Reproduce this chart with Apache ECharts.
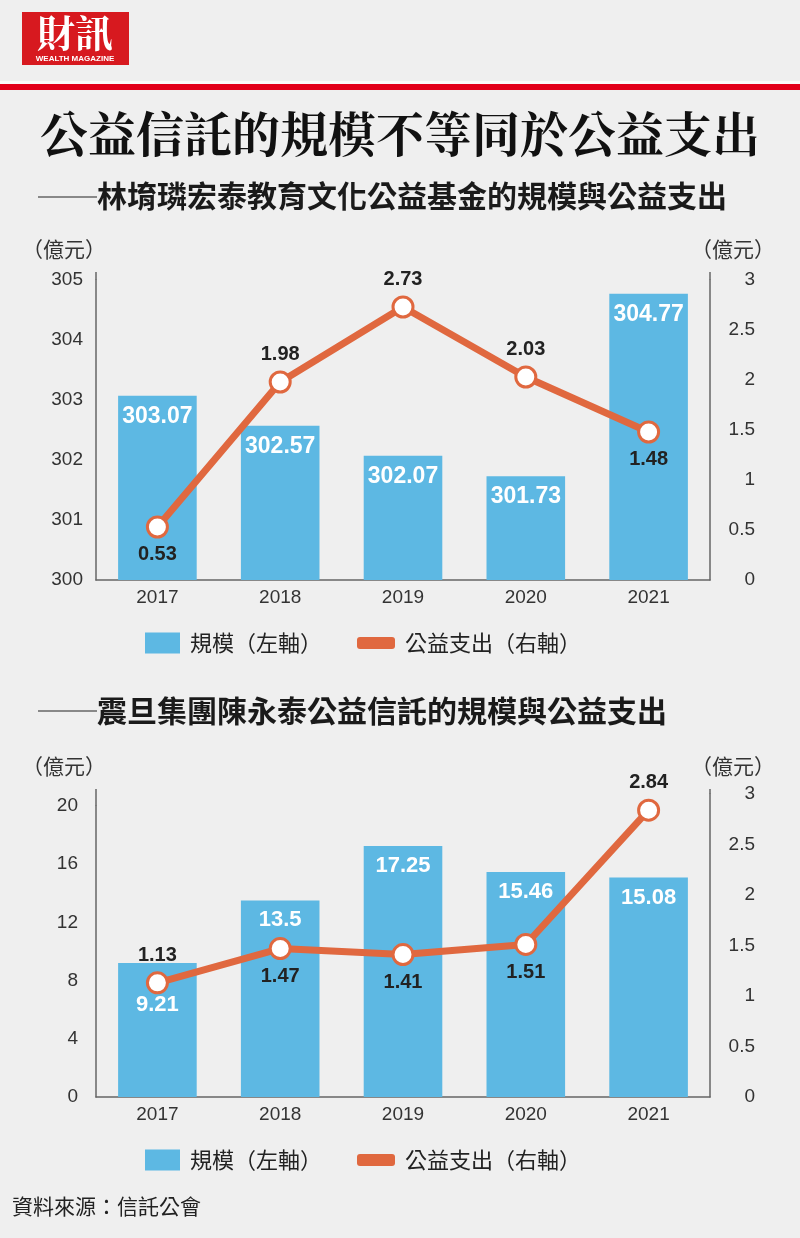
<!DOCTYPE html>
<html><head><meta charset="utf-8">
<script src="https://cdn.jsdelivr.net/npm/echarts@6/dist/echarts.min.js"></script>
<style>html,body{margin:0;padding:0;background:#efefef;}#c{width:800px;height:1238px;}</style>
</head><body><div id="c"></div>
<script>
// ---- data ----
const years = ['2017', '2018', '2019', '2020', '2021'];
const scale1 = [303.07, 302.57, 302.07, 301.73, 304.77];
const spend1 = [0.53, 1.98, 2.73, 2.03, 1.48];
const scale2 = [9.21, 13.5, 17.25, 15.46, 15.08];
const spend2 = [1.13, 1.47, 1.41, 1.51, 2.84];
const leftAxis1 = { min: 300, max: 305, interval: 1 };
const rightAxis1 = { min: 0, max: 3, interval: 0.5 };
const leftAxis2 = { min: 0, max: 20, interval: 4 };
const rightAxis2 = { min: 0, max: 3, interval: 0.5 };
// ---- texts ----
const mainTitle = '公益信託的規模不等同於公益支出';
const subTitle1 = '林堉璘宏泰教育文化公益基金的規模與公益支出';
const subTitle2 = '震旦集團陳永泰公益信託的規模與公益支出';
const unitText = '（億元）';
const barName = '規模（左軸）';
const lineName = '公益支出（右軸）';
const sourceText = '資料來源：信託公會';
// ---- label placement (style) ----
const spend1Pos = ['bottom', 'top', 'top', 'top', 'bottom'];
const spend2Pos = ['top', 'bottom', 'bottom', 'bottom', 'top'];
const scale2Dist = [31, 8, 9, 9, 9];

const BLUE = '#5db8e3';
const ORANGE = '#e0683f';
const DARK = '#222';
const NUM = "'Liberation Sans', Arial, sans-serif";
const CJK = "'Noto Sans CJK TC', 'Noto Sans CJK SC', sans-serif";

const chart = echarts.init(document.getElementById('c'), null, { renderer: 'canvas' });

function catAxis(grid, show) {
  return {
    type: 'category', gridIndex: grid, data: years, show: show,
    axisLine: { show: true, lineStyle: { color: '#666', width: 1.5 } },
    axisTick: { show: false },
    axisLabel: { color: '#333', fontSize: 19, fontFamily: NUM, margin: 8 }
  };
}
function valAxis(grid, pos, ax, margin, align) {
  return Object.assign({
    type: 'value', gridIndex: grid, position: pos,
    axisLine: { show: true, lineStyle: { color: '#666', width: 1.5 } },
    axisTick: { show: false },
    splitLine: { show: false },
    axisLabel: { color: '#333', fontSize: 19, fontFamily: NUM, margin: margin, align: align }
  }, ax);
}

const lineBase = {
  type: 'line', name: lineName, symbol: 'circle', symbolSize: 20,
  lineStyle: { color: ORANGE, width: 7 },
  itemStyle: { color: '#fff', borderColor: ORANGE, borderWidth: 3 },
  z: 5,
  label: { show: true, distance: 6, color: DARK, fontSize: 20, fontWeight: 'bold', fontFamily: NUM }
};

const legendText = { fontSize: 22, color: DARK, fontFamily: CJK, padding: [0, 0, 0, 5] };

function legends(cy) {
  return [
    { data: [{ name: barName, icon: 'rect' }], left: 145, top: cy - 13, itemWidth: 35, itemHeight: 21,
      padding: 0, selectedMode: false, textStyle: legendText },
    { data: [{ name: lineName, icon: 'roundRect', itemStyle: { color: ORANGE, borderWidth: 0 } }],
      left: 357, top: cy - 13, itemWidth: 38, itemHeight: 12, padding: 0, selectedMode: false, textStyle: legendText }
  ];
}

const unitStyle = { fontSize: 21, fontWeight: 'normal', color: '#333', fontFamily: CJK };

const option = {
  backgroundColor: '#efefef',
  animation: false,
  title: [
    { text: mainTitle, left: 'center', top: 110, padding: 0,
      textStyle: { fontSize: 48, fontWeight: 'bold', color: '#111', fontFamily: "'Noto Serif CJK TC', " + CJK } },
    { text: subTitle1, left: 97, top: 181, padding: 0,
      textStyle: { fontSize: 30, fontWeight: 'bold', color: '#1a1a1a', fontFamily: CJK } },
    { text: subTitle2, left: 97, top: 696, padding: 0,
      textStyle: { fontSize: 30, fontWeight: 'bold', color: '#1a1a1a', fontFamily: CJK } },
    { text: unitText, left: 22, top: 239, padding: 0, textStyle: unitStyle },
    { text: unitText, left: 691, top: 239, padding: 0, textStyle: unitStyle },
    { text: unitText, left: 22, top: 756, padding: 0, textStyle: unitStyle },
    { text: unitText, left: 691, top: 756, padding: 0, textStyle: unitStyle },
    { text: sourceText, left: 12, top: 1196, padding: 0, textStyle: { fontSize: 21, fontWeight: 'normal', color: '#222', fontFamily: CJK } }
  ],
  legend: legends(645).concat(legends(1162)),
  grid: [
    { left: 96, right: 90, top: 280, bottom: 1238 - 580 },
    { left: 96, right: 90, top: 806, bottom: 1238 - 1097 },
    { left: 96, right: 90, top: 794, bottom: 1238 - 1097 }
  ],
  xAxis: [catAxis(0, true), catAxis(1, true), catAxis(2, false)],
  yAxis: [
    valAxis(0, 'left', Object.assign({ startValue: 300 }, leftAxis1), 13, 'right'),
    valAxis(0, 'right', rightAxis1, 45, 'right'),
    valAxis(1, 'left', leftAxis2, 18, 'right'),
    valAxis(2, 'right', rightAxis2, 45, 'right')
  ],
  graphic: [
    { type: 'rect', shape: { x: 22, y: 12, width: 107, height: 53 }, style: { fill: '#d7191f' } },
    { type: 'text', x: 75, y: 33, style: { text: '財訊', fill: '#fff', font: "bold 38px 'Noto Serif CJK TC', 'Noto Sans CJK TC', serif", align: 'center', verticalAlign: 'middle' } },
    { type: 'text', x: 75, y: 59, style: { text: 'WEALTH MAGAZINE', fill: '#fff', font: "bold 8px 'Liberation Sans', sans-serif", align: 'center', verticalAlign: 'middle' } },
    { type: 'rect', shape: { x: 0, y: 81, width: 800, height: 3 }, style: { fill: '#fafafa' } },
    { type: 'rect', shape: { x: 0, y: 84, width: 800, height: 6 }, style: { fill: '#e2001a' } },
    { type: 'line', shape: { x1: 38, y1: 197, x2: 97, y2: 197 }, style: { stroke: '#666', lineWidth: 1.5 } },
    { type: 'line', shape: { x1: 38, y1: 711, x2: 97, y2: 711 }, style: { stroke: '#666', lineWidth: 1.5 } },
    { type: 'line', shape: { x1: 96, y1: 272, x2: 96, y2: 280 }, style: { stroke: '#666', lineWidth: 1.5 } },
    { type: 'line', shape: { x1: 710, y1: 272, x2: 710, y2: 280 }, style: { stroke: '#666', lineWidth: 1.5 } },
    { type: 'line', shape: { x1: 96, y1: 789, x2: 96, y2: 806 }, style: { stroke: '#666', lineWidth: 1.5 } },
    { type: 'line', shape: { x1: 710, y1: 789, x2: 710, y2: 794 }, style: { stroke: '#666', lineWidth: 1.5 } }
  ],
  series: [
    { type: 'bar', name: barName, xAxisIndex: 0, yAxisIndex: 0, data: scale1, barWidth: '64%',
      itemStyle: { color: BLUE },
      label: { show: true, position: 'insideTop', distance: 9, color: '#fff', fontSize: 23, fontWeight: 'bold', fontFamily: NUM } },
    Object.assign({}, lineBase, { xAxisIndex: 0, yAxisIndex: 1,
      data: spend1.map((v, i) => ({ value: v, label: { position: spend1Pos[i] } })) }),
    { type: 'bar', name: barName, xAxisIndex: 1, yAxisIndex: 2, barWidth: '64%',
      data: scale2.map((v, i) => ({ value: v, label: { distance: scale2Dist[i] } })),
      itemStyle: { color: BLUE },
      label: { show: true, position: 'insideTop', color: '#fff', fontSize: 22, fontWeight: 'bold', fontFamily: NUM } },
    Object.assign({}, lineBase, { xAxisIndex: 2, yAxisIndex: 3,
      data: spend2.map((v, i) => ({ value: v, label: { position: spend2Pos[i] } })) })
  ]
};
chart.setOption(option);
</script>
</body></html>
